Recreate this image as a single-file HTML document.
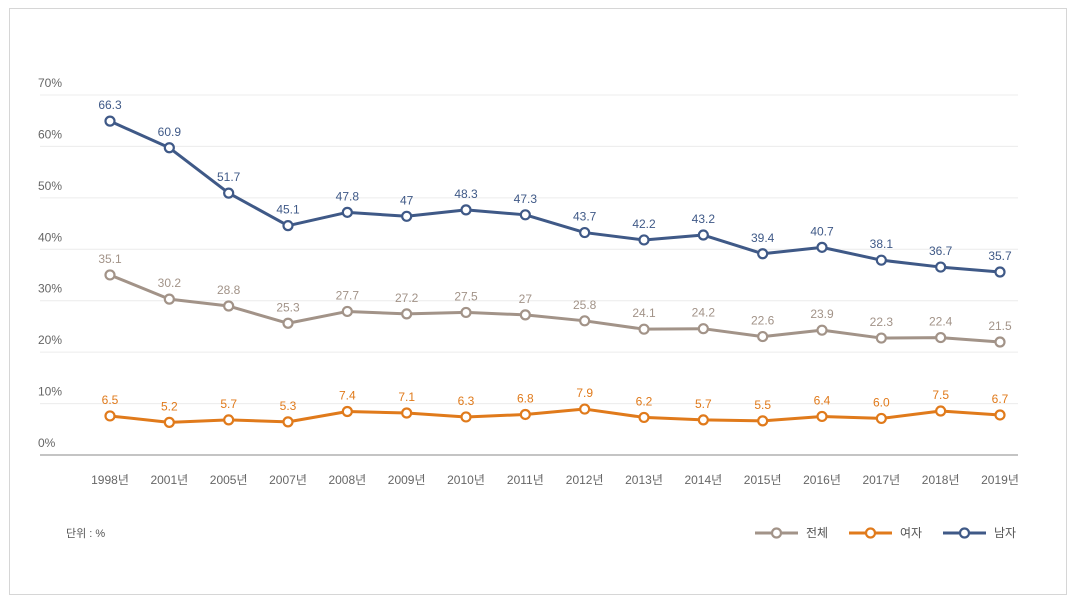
<!DOCTYPE html>
<html><head><meta charset="utf-8"><style>
body{margin:0;background:#fff;}
#frame{position:absolute;left:9px;top:8px;width:1058px;height:587px;border:1px solid #d6d6d6;box-sizing:border-box;}
svg{position:absolute;left:0;top:0;}
text{font-family:"Liberation Sans","Noto Sans CJK KR",sans-serif;}
</style></head><body>
<div id="frame"></div>
<svg id="chart" width="1075" height="599"></svg>
<script>
const categories=["1998년","2001년","2005년","2007년","2008년","2009년","2010년","2011년","2012년","2013년","2014년","2015년","2016년","2017년","2018년","2019년"];
const totalValues=[35.1,30.2,28.8,25.3,27.7,27.2,27.5,27,25.8,24.1,24.2,22.6,23.9,22.3,22.4,21.5];
const femaleValues=[6.5,5.2,5.7,5.3,7.4,7.1,6.3,6.8,7.9,6.2,5.7,5.5,6.4,6.0,7.5,6.7];
const maleValues=[66.3,60.9,51.7,45.1,47.8,47,48.3,47.3,43.7,42.2,43.2,39.4,40.7,38.1,36.7,35.7];
const femaleLabels=["6.5","5.2","5.7","5.3","7.4","7.1","6.3","6.8","7.9","6.2","5.7","5.5","6.4","6.0","7.5","6.7"];
const yTicks=[0,10,20,30,40,50,60,70];
const svg=document.getElementById('chart');
const NS="http://www.w3.org/2000/svg";
const x=i=>110+i*(890/15);
const y=v=>455-v*(360/70);
const ym=v=>448-v*4.93;
function mk(t,a){const e=document.createElementNS(NS,t);for(const k in a)e.setAttribute(k,a[k]);svg.appendChild(e);return e;}
yTicks.forEach(t=>{
  const g=mk('line',{x1:40,x2:1018,y1:y(t),y2:y(t),stroke:t===0?'#c4c4c4':'#ececec','stroke-width':t===0?2:1});
  
  
  const l=mk('text',{x:38,y:y(t)-8,'font-size':12,fill:'#666'});l.textContent=t+'%';
  
  
});
categories.forEach((c,i)=>{
  const l=mk('text',{x:x(i),y:484,'font-size':12,fill:'#666','text-anchor':'middle'});l.textContent=c;
  
  
});
function series(vals,labels,color,name){
  const pts=vals.map((v,i)=>x(i)+','+ym(v)).join(' ');
  const p=mk('polyline',{points:pts,fill:'none',stroke:color,'stroke-width':3,'stroke-linejoin':'round'});
  
  
  vals.forEach((v,i)=>{
    const c=mk('circle',{cx:x(i),cy:ym(v),r:4.5,fill:'#fff',stroke:color,'stroke-width':2.2});
    
    
    const t=mk('text',{x:x(i),y:ym(v)-12,'font-size':12,fill:color,'text-anchor':'middle'});
    t.textContent=labels?labels[i]:String(v);
    
    
  });
}
series(totalValues,null,'#a29388','total');
series(femaleValues,femaleLabels,'#e07a1b','female');
series(maleValues,null,'#3f5987','male');
const u=mk('text',{x:66,y:537,'font-size':11,fill:'#555'});u.textContent='단위 : %';


[['전체','#a29388',755],['여자','#e07a1b',849],['남자','#3f5987',943]].forEach(([n,c,lx])=>{
  const l=mk('line',{x1:lx,x2:lx+43,y1:533,y2:533,stroke:c,'stroke-width':3});
  
  
  const ci=mk('circle',{cx:lx+21.5,cy:533,r:4.5,fill:'#fff',stroke:c,'stroke-width':2.2});
  
  
  const t=mk('text',{x:lx+51,y:537,'font-size':12,fill:'#555'});t.textContent=n;
  
  
});
</script>
</body></html>
